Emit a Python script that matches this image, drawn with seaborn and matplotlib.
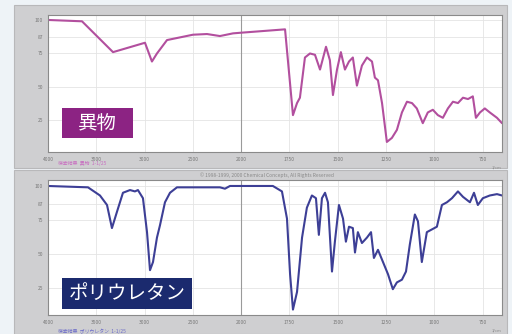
import numpy as np
import pandas as pd
import matplotlib
matplotlib.use("Agg")
import matplotlib.pyplot as plt
import matplotlib.patches as mpatches
import seaborn as sns

# wavenumber (cm-1) / transmittance (%)
wn_foreign = [4000, 3648, 3327, 2996, 2924, 2872, 2768, 2499, 2354, 2220, 2085,
              2000, 1954, 1773, 1732, 1711, 1696, 1670, 1644, 1618, 1592, 1561,
              1541, 1525, 1504, 1484, 1463, 1442, 1422, 1401, 1375, 1349, 1323,
              1308, 1292, 1271, 1246, 1220, 1194, 1168, 1142, 1116, 1091, 1060,
              1034, 1008, 982, 956, 930, 904, 878, 852, 826, 801, 785, 764, 739,
              713, 676, 650]
t_foreign = [100, 99, 76, 83, 69, 75, 85, 89, 89.5, 88, 90,
             90.5, 91, 93, 29, 38, 42, 72, 75, 74, 63, 80,
             70, 44, 63, 76, 63, 69, 72, 51, 66, 72, 69,
             57, 55, 38, 9, 12, 18, 31, 39, 38, 34, 23,
             31, 33, 29, 27, 34, 39, 38, 42, 41, 43, 27, 31, 34,
             31, 27, 23]

wn_pu = [4000, 3586, 3462, 3389, 3338, 3286, 3224, 3151, 3100, 3069, 3017, 2975,
         2944, 2913, 2872, 2841, 2789, 2737, 2665, 2220, 2168, 2116, 2000, 1954,
         1836, 1789, 1763, 1747, 1732, 1711, 1685, 1660, 1634, 1613, 1598, 1582,
         1566, 1551, 1530, 1515, 1494, 1473, 1458, 1442, 1422, 1411, 1396, 1375,
         1349, 1328, 1313, 1292, 1266, 1240, 1215, 1194, 1168, 1147, 1127, 1101,
         1085, 1065, 1039, 1013, 987, 961, 935, 909, 878, 852, 816, 795, 775,
         749, 713, 676, 650]
t_pu = [100, 99, 93, 86, 69, 81, 95, 97, 96, 97, 91, 66,
        38, 44, 62, 71, 88, 95, 99, 99, 98, 100, 100, 100,
        100, 96, 76, 35, 9, 22, 62, 84, 93, 91, 64, 91,
        95, 88, 37, 59, 86, 76, 59, 70, 69, 51, 66, 58,
        62, 66, 47, 53, 44, 35, 24, 29, 31, 37, 57, 79,
        74, 44, 66, 68, 70, 86, 88, 91, 96, 92, 88, 95, 86,
        91, 93, 94, 93]

x_ticks = [4000, 3500, 3000, 2500, 2000, 1750, 1500, 1250, 1000, 750]
y_ticks = [25, 50, 75, 87, 100]
names = ["異物", "ポリウレタン"]
spectra = [(wn_foreign, t_foreign), (wn_pu, t_pu)]

# styling: line colour, label box colour, box in axes fraction, axes in pixels
line_colors = ["#b24f9e", "#3d3f96"]
box_colors = ["#8c2383", "#1b2a6e"]
box_pos = [(0.031, 0.102, 0.156, 0.219), (0.031, 0.044, 0.286, 0.230)]
axes_px = [(48, 15, 502, 152, (1.5, 103.7)), (48, 180, 502, 315, (5, 104.4))]


def fwd(w):
    w = np.asarray(w, dtype=float)
    return np.where(w >= 2000, w, 2 * w - 2000)


def inv(u):
    u = np.asarray(u, dtype=float)
    return np.where(u >= 2000, u, (u + 2000) / 2)


sns.set_theme(style="white")
plt.rcParams["font.family"] = ["Noto Sans CJK JP", "DejaVu Sans"]

W, H = 512, 334
fig = plt.figure(figsize=(W / 100, H / 100), dpi=100)
fig.patch.set_facecolor("#eef3f7")

# gray instrument frames (pixels: x0, y0, x1, y1)
for x0, y0, x1, y1 in [(14, 5, 507, 168), (14, 170, 507, 334)]:
    fig.patches.append(mpatches.Rectangle((x0 / W, 1 - y1 / H), (x1 - x0) / W, (y1 - y0) / H,
                                          transform=fig.transFigure, facecolor="#cfcfd1",
                                          edgecolor="#b8b8ba", lw=0.8, zorder=-5))

for i, name in enumerate(names):
    wn, t = spectra[i]
    x0, y0, x1, y1, ylim = axes_px[i]
    ax = fig.add_axes([x0 / W, 1 - y1 / H, (x1 - x0) / W, (y1 - y0) / H])
    ax.set_facecolor("white")
    ax.set_xscale("function", functions=(fwd, inv))
    df = pd.DataFrame({"wn": wn, "T": t})
    sns.lineplot(data=df, x="wn", y="T", ax=ax, color=line_colors[i], lw=1.5, sort=False)
    ax.set_xlim(4000, 650)
    ax.set_ylim(*ylim)
    ax.set_xticks(x_ticks)
    ax.set_xticklabels([str(v) for v in x_ticks], fontsize=3.5, color="#777777")
    ax.set_yticks(y_ticks)
    ax.set_yticklabels([str(v) for v in y_ticks], fontsize=3.5, color="#777777")
    ax.tick_params(length=2, width=0.5, pad=1.5, colors="#888888", labelcolor="#777777")
    ax.grid(True, color="#e4e4e4", lw=0.6)
    ax.axvline(2000, color="#9a9a9a", lw=0.8, zorder=1)
    ax.set_xlabel("")
    ax.set_ylabel("")
    for s in ax.spines.values():
        s.set_color("#8a8a8a")
        s.set_linewidth(0.8)
    bx, by, bw, bh = box_pos[i]
    ax.add_patch(mpatches.Rectangle((bx, by), bw, bh, transform=ax.transAxes,
                                    facecolor=box_colors[i], edgecolor="none", zorder=5))
    ax.text(bx + bw / 2, by + bh / 2, name, transform=ax.transAxes, fontsize=14,
            color="white", va="center", ha="center", zorder=6)
    ax.text(1.0, -0.1, "1/cm", transform=ax.transAxes, fontsize=3, color="#888888",
            ha="right", va="top")

fig.text(58 / W, 1 - 164 / H, "検索結果  異物  1-1/25", fontsize=3.5, color="#c86cc0",
         va="center")
fig.text(200 / W, 1 - 175 / H, "© 1998-1999, 2000 Chemical Concepts, All Rights Reserved",
         fontsize=3.5, color="#888888", va="center")
fig.text(58 / W, 1 - 331 / H, "検索結果  ポリウレタン  1-1/25", fontsize=3.5,
         color="#6a6ac8", va="center")

fig.savefig("out.png", dpi=100, facecolor=fig.get_facecolor())
